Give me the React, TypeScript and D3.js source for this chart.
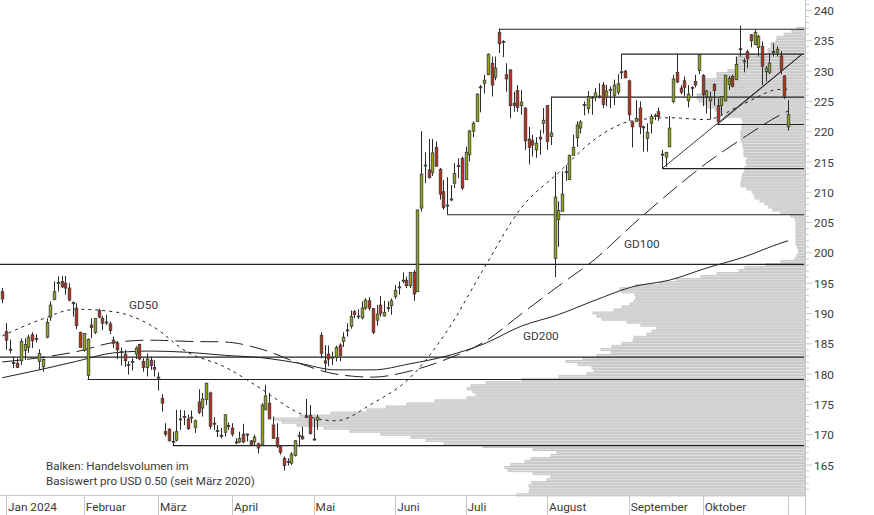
import * as d3 from "d3";

// bar index 0 = last trading day of 2023, 212 = last bar
const highs = [
  194.2, 188.4, 185.7, 182.9, 182.6, 185.9, 185.9, 186.5, 186.9, 186.6,
  184.1, 182.6, 189.2, 192, 195.3, 196.1, 196.2, 196.2, 195, 192,
  191.7, 187, 186.7, 185.9, 189.2, 189.2, 190.8, 189.6, 189.8, 188.7,
  186.2, 185.4, 184.4, 184, 182.1, 182.6, 184.6, 185, 182.6, 183.4,
  182.9, 182.3, 180.3, 176.7, 171.9, 171.1, 170.5, 174.1, 174.1, 174,
  173.3, 174, 172.5, 177.5, 176.9, 178.5, 177.1, 172.9, 171.6, 171.1,
  173.4, 172, 171.9, 169.4, 170.5, 171.8, 170.2, 169.1, 170, 168.7,
  175.2, 178.2, 176.9, 173, 171.9, 168.3, 166.4, 166.1, 167.1, 169.1,
  170.5, 171.3, 175.9, 174.9, 172.6, 173.3, 186.9, 184.8, 184.7, 183.7,
  184.7, 185.1, 186.9, 188.4, 190.5, 190.6, 190.7, 192, 192.5, 192.7,
  190.9, 191.4, 192.9, 192.1, 192, 192.5, 194.7, 195.3, 196.8, 196.1,
  196.8, 197.2, 207.1, 220.1, 216.6, 218.8, 218.8, 218.4, 214, 212,
  212.5, 211.2, 214.8, 215.6, 215.9, 217.5, 220.3, 221.7, 226.3, 227.7,
  229.4, 232.9, 232.4, 232.4, 237, 235.1, 231.3, 230.3, 226.6, 227.7,
  226.9, 224, 220.8, 219.5, 219.1, 220.3, 223.9, 224.4, 225.7, 213.4,
  208.5, 213.5, 214.5, 216.2, 219.5, 221.7, 221.9, 225, 226.7, 225.9,
  227.2, 228, 228.2, 227.7, 227.5, 228.6, 229.5, 232.8, 230.2, 228.6,
  221.7, 225.2, 225, 221, 221.4, 222.9, 223, 224, 217, 216.6,
  222.6, 229.4, 232.9, 227.7, 229.1, 227.7, 227.5, 229.4, 232.8, 229.5,
  226.9, 226.6, 228, 225.5, 225.8, 229.4, 229.2, 229.4, 232.4, 237.5,
  232.1, 233.5, 236.1, 236.8, 236, 234.9, 230.8, 232.9, 234.6, 234.1,
  233.3, 229.3, 225.2,
];
const lows = [
  191.7, 184, 183.4, 181, 181, 181.5, 182.3, 183.5, 184.3, 185.2,
  180.7, 180.4, 185.9, 188.8, 192.2, 193.6, 194.2, 193.1, 192, 189.5,
  187.4, 184.4, 183.7, 179.1, 185.9, 186.6, 189.2, 187.3, 188.1, 186.6,
  184.3, 182.5, 181.4, 181.2, 179.9, 180.6, 182.5, 182.3, 180.4, 179.6,
  180.7, 179.6, 177.3, 173.8, 169.7, 168.9, 168.3, 168.9, 170.8, 171.6,
  170.8, 171.9, 170.3, 173.4, 173, 174.9, 170.9, 170.8, 169.6, 169.4,
  169.7, 170.8, 169.7, 168.4, 168.6, 168.6, 168.9, 168.3, 168.3, 166.9,
  168.3, 174.1, 172.6, 169.4, 167.8, 166.7, 164.1, 164.9, 165, 166.4,
  168, 169.2, 172.8, 170, 169, 170.8, 182.6, 180.4, 181.3, 181.5,
  182.1, 182.1, 184.5, 186.2, 187.5, 189.2, 189.1, 189, 190.6, 190.5,
  186.6, 188, 189.5, 189.5, 190.3, 189.8, 192.4, 193.1, 195, 194.2,
  194.2, 192.1, 193.6, 206.8, 211.5, 212.3, 212.7, 214.3, 208.8, 207.1,
  206.4, 208.5, 210.7, 212.3, 210.4, 212, 215.1, 219.1, 221.7, 223.2,
  226.3, 229.4, 225.8, 228.5, 233, 232.3, 226.6, 222.2, 223.3, 223.3,
  222.8, 217, 214.6, 215.9, 215.7, 216.2, 219.7, 217, 217.8, 196,
  201, 206.8, 211.9, 212, 216.2, 217.5, 219.7, 222.7, 223, 222.8,
  225, 225.5, 223.9, 224.2, 223.9, 224.4, 226.1, 228.7, 228.8, 221.8,
  217.4, 221.7, 219.6, 216.7, 216.7, 219.7, 221.9, 221.8, 214, 214.2,
  217.5, 224.7, 228, 226.2, 225.8, 224, 225.8, 227.3, 229.5, 224.2,
  223, 222, 224.3, 221.1, 222.8, 225, 226.9, 227.3, 228.5, 232.4,
  229.8, 230.5, 233.9, 234.3, 232.4, 227.7, 228.3, 229.5, 232.4, 232.4,
  229.5, 225.4, 220.2,
];
const opens = [
  193.6, 187, 184.1, 181.9, 181.8, 182.2, 183.9, 184.4, 186.5, 185.9,
  182.1, 181.2, 186.1, 189.4, 192.3, 195.1, 195.3, 195, 194.2, 191.8,
  190.9, 186.9, 183.9, 179.8, 188.1, 186.9, 190.5, 189.2, 188.6, 188.3,
  185.6, 185.1, 183.7, 183.3, 181.6, 182.1, 183.3, 184.9, 182.1, 181.1,
  182.3, 181.1, 179.5, 176, 170.5, 170.9, 168.9, 169.1, 172.6, 173,
  172.6, 172.9, 171.2, 175.4, 174.4, 175.8, 176.9, 171.9, 170.7, 169.9,
  170.4, 171.5, 171.1, 168.8, 168.8, 170.1, 170.1, 169, 168.8, 168.5,
  168.3, 174.1, 175.2, 171.6, 169.5, 168.1, 166.1, 165.6, 165.3, 166.6,
  169.9, 169.7, 173, 173.2, 169.3, 172.4, 186.4, 182.2, 183.3, 182.8,
  182.8, 184.8, 185.4, 187.3, 187.9, 190.3, 189.6, 189.3, 190.9, 192.1,
  190.8, 188.9, 191.4, 189.6, 191, 191.3, 192.8, 194.4, 195.5, 195.5,
  194.6, 196.8, 193.6, 207.4, 214.5, 213.7, 213.3, 217.4, 213.8, 210.1,
  207.9, 208.9, 211.5, 214.4, 215.6, 212.1, 216.2, 220.1, 221.7, 227.4,
  228, 229.4, 231.3, 229, 236.4, 234.9, 229.4, 230.2, 224.7, 226.8,
  224.3, 223.9, 218.8, 218.5, 217, 219.1, 221.4, 224.3, 219.2, 199.1,
  205.5, 206.9, 213.4, 212.1, 216.1, 219, 220.6, 224.5, 223.8, 225.7,
  225.7, 225.9, 227.7, 225.7, 227, 226, 226.5, 229.9, 230, 228.4,
  221.6, 221.7, 223.9, 220.8, 218.9, 221.4, 222.7, 223.3, 216.3, 215.8,
  217.5, 225, 229.8, 227.2, 228.4, 225.1, 227.3, 228.3, 230.1, 229.3,
  225.8, 225.1, 227.8, 224.3, 224.3, 225.1, 227.8, 229.1, 228.6, 233.7,
  231.7, 233.2, 236, 234.4, 233.9, 234.1, 229.9, 229.8, 233.2, 233.1,
  232.5, 229.2, 220.8,
];
const closes = [
  192.4, 185.6, 184.1, 181.9, 181.1, 185.4, 184.9, 186.1, 185.5, 185.9,
  183.4, 182.4, 188.5, 191.4, 193.6, 195.1, 194.4, 194.2, 192.2, 191.8,
  188, 184.4, 186.7, 185.7, 187.7, 189.2, 189.4, 188.4, 188.6, 187.2,
  185.1, 184, 183.7, 182.2, 181.6, 182.1, 184.3, 182.5, 181.1, 182.5,
  181.4, 180.8, 179.5, 175.2, 170.1, 169, 168.9, 170.5, 172.6, 173,
  171, 172.9, 172.3, 173.7, 175.9, 178.5, 171.4, 171.9, 170.7, 169.9,
  173.3, 171.5, 170.1, 168.8, 169.4, 168.8, 170.1, 168.4, 169.6, 167.8,
  174.9, 176.4, 172.6, 169.4, 168.1, 167.1, 164.9, 165.6, 166.8, 169,
  169.9, 169.3, 173, 170.2, 169.3, 172.9, 183.4, 181.8, 182.5, 182.8,
  184.4, 183.1, 186.1, 187.3, 189.5, 189.8, 189.6, 190.9, 192.2, 190.9,
  186.9, 189.9, 190, 190.2, 191, 192.1, 193.8, 194.4, 195.5, 194.6,
  196.8, 193.2, 207.1, 213, 214.5, 212.4, 216.5, 214.3, 209.7, 207.5,
  207.9, 208.9, 213.1, 214.4, 210.7, 216.6, 220.1, 221.4, 226.2, 227.4,
  228.5, 232.8, 227.7, 230.5, 234.5, 234.9, 228.7, 224.3, 224.3, 224,
  224.9, 218.5, 217.4, 217.8, 218.1, 218.8, 221.9, 218.4, 219.8, 209.2,
  207, 209.7, 213.4, 216.1, 217.4, 221.1, 221.6, 224.5, 225.8, 225.7,
  226.4, 225.9, 224.5, 226.7, 227, 227.7, 227.9, 229.9, 228.9, 222.8,
  220.8, 222.2, 220.8, 220.8, 219.9, 222.5, 222.7, 222.5, 216.3, 216.6,
  220.6, 228.7, 228.2, 226.5, 227.3, 226.2, 227.3, 227.7, 232.7, 226.1,
  226.7, 225.7, 226.8, 221.7, 225.8, 229.3, 228.8, 227.5, 231.1, 233.7,
  231.7, 232.1, 235, 236.4, 235.7, 230.8, 230.5, 231.3, 233.2, 233.6,
  230.1, 225.8, 222.8,
];

// moving averages, read every ten bars
const maBars = [0, 10, 20, 30, 40, 50, 60, 70, 80, 90, 100, 110, 120, 130, 140, 150, 160, 170, 180, 190, 200, 210, 212];
const gd50 = [186.3, 188.9, 190.7, 190.3, 188.1, 183.6, 181.2, 177.5, 173.6, 172.3, 175.2, 179.4, 187.1, 197.5, 207.4, 213.2, 218.8, 221.8, 222.3, 222, 224.6, 227, 227];
const gd100 = [182, 182.7, 183.7, 185.2, 185.6, 185.4, 185.3, 184.1, 181.8, 180, 179.5, 180.5, 182.5, 185.3, 189.9, 194.5, 199, 204.6, 209.9, 214.8, 219, 222.8, 223.4];
const gd200 = [179.4, 180.7, 182.1, 183.5, 183.8, 183.6, 183.1, 182.7, 181.8, 180.7, 180.7, 181.7, 183, 185, 187.9, 189.8, 192.2, 194.4, 195.5, 197.5, 199.3, 201.6, 202];

// volume per USD 0.50, from 160 upwards
const volumeStart = 160;
const volumes = [
  288, 276, 275, 276, 273, 258, 254, 272, 297, 300, 294, 280, 274, 254, 248, 272,
  322, 361, 379, 394, 424, 455, 481, 508, 523, 531, 505, 474, 438, 419, 398, 370,
  338, 329, 332, 338, 334, 319, 283, 246, 218, 211, 213, 227, 239, 222, 208, 194,
  204, 193, 183, 172, 171, 158, 153, 148, 164, 178, 203, 208, 212, 191, 183, 175,
  171, 169, 170, 183, 185, 170, 145, 129, 104, 88, 66, 60, 39, 24, 10, 8,
  6, 7, 8, 9, 9, 9, 9, 9, 9, 9, 9, 10, 14, 24, 32, 36,
  40, 45, 50, 51, 53, 58, 64, 64, 63, 63, 62, 60, 60, 58, 59, 58,
  61, 61, 61, 62, 62, 64, 64, 64, 64, 63, 63, 62, 63, 80, 86, 90,
  97, 102, 106, 108, 108, 102, 101, 101, 101, 101, 88, 88, 77, 69, 69, 69,
  69, 67, 37, 37, 34, 34, 29, 28, 21, 13, 8,
];

// support and resistance: price and first bar
const levelPrices = [198.1, 182.8, 179.1, 168.2, 206.3, 225.7, 232.8, 236.9, 221.2, 213.9];
const levelStarts = [-2, -2, 23, 46, 120, 148, 167, 134, 193, 178];
// trend channel from bar/price to bar/price
const trendFrom = [[178, 213.9], [193, 221.2]];
const trendTo = [[215.8, 232.8], [215.8, 232.8]];

const monthBars = [1, 22, 42, 62, 84, 106, 125, 147, 169, 189, 212];
const monthLabels = ["Jan 2024", "Februar", "März", "April", "Mai", "Juni", "Juli", "August", "September", "Oktober", ""];
const priceLabels = [165, 170, 175, 180, 185, 190, 195, 200, 205, 210, 215, 220, 225, 230, 235, 240];

const WIDTH = 874;
const HEIGHT = 515;
const RIGHT_EDGE = 805;
const BOTTOM = 495.5;
const FONT = "Roboto, sans-serif";

export default function App() {
  const x = d3.scaleLinear().domain([1, 212]).range([6, 788]);
  const y = d3.scaleLinear().domain([240, 160]).range([10.5, 495.3]);
  const vol = d3.scaleLinear().domain([0, 531]).range([RIGHT_EDGE, RIGHT_EDGE - 531]);

  const maLine = d3
    .line<number>()
    .x((_, i) => x(maBars[i]))
    .y((d) => y(d))
    .curve(d3.curveMonotoneX);

  const rowHeight = Math.abs(y(0.5) - y(0));
  const minorTicks = d3.range(161, 242);

  return (
    <svg
      width={WIDTH}
      height={HEIGHT}
      style={{ position: "absolute", left: 0, top: 0, background: "#fff" }}
      fontFamily={FONT}
      fontSize={11.8}
    >
      {/* volume profile */}
      <g>
        {volumes.map((v, i) => {
          const price = volumeStart + i * 0.5;
          return (
            <rect
              key={price}
              x={vol(v)}
              y={y(price) - rowHeight / 2}
              width={RIGHT_EDGE - vol(v)}
              height={rowHeight - 0.9}
              fill="#dedede"
              stroke="#c4c4c4"
              strokeWidth={0.9}
            />
          );
        })}
      </g>

      {/* axes */}
      <line x1={0} x2={RIGHT_EDGE} y1={BOTTOM} y2={BOTTOM} stroke="#c8c8c8" />
      <line x1={RIGHT_EDGE + 0.5} x2={RIGHT_EDGE + 0.5} y1={0} y2={HEIGHT} stroke="#c8c8c8" />
      {minorTicks.map((p) => (
        <line
          key={p}
          x1={RIGHT_EDGE}
          x2={p % 5 === 0 ? RIGHT_EDGE + 7 : RIGHT_EDGE + 4}
          y1={y(p)}
          y2={y(p)}
          stroke="#c8c8c8"
        />
      ))}
      {priceLabels.map((p) => (
        <text key={p} x={814} y={y(p) + 4.5} fill="#3a3a3a">
          {p}
        </text>
      ))}
      {monthBars.map((b, i) => (
        <g key={b}>
          <line x1={Math.round(x(b)) + 0.5} x2={Math.round(x(b)) + 0.5} y1={BOTTOM} y2={HEIGHT} stroke="#c8c8c8" />
          <text x={x(b) + 2} y={511} fill="#3a3a3a">
            {monthLabels[i]}
          </text>
        </g>
      ))}

      {/* levels */}
      {levelPrices.map((p, i) => (
        <line
          key={p}
          x1={x(levelStarts[i])}
          x2={RIGHT_EDGE - 1}
          y1={y(p)}
          y2={y(p)}
          stroke="#222"
          strokeWidth={1.1}
        />
      ))}
      {trendFrom.map((from, i) => (
        <line
          key={i}
          x1={x(from[0])}
          y1={y(from[1])}
          x2={x(trendTo[i][0])}
          y2={y(trendTo[i][1])}
          stroke="#222"
          strokeWidth={0.9}
        />
      ))}

      {/* moving averages */}
      <path d={maLine(gd200) ?? ""} fill="none" stroke="#222" strokeWidth={1} />
      <path d={maLine(gd100) ?? ""} fill="none" stroke="#222" strokeWidth={1} strokeDasharray="18 7" />
      <path d={maLine(gd50) ?? ""} fill="none" stroke="#222" strokeWidth={1} strokeDasharray="3 4" />

      {/* candles */}
      {highs.map((h, i) => {
        const top = Math.max(opens[i], closes[i]);
        const bottom = Math.min(opens[i], closes[i]);
        const cx = Math.round(x(i)) + 0.5;
        const bodyH = Math.max(y(bottom) - y(top), 1);
        return (
          <g key={i}>
            <line x1={cx} x2={cx} y1={y(h)} y2={y(lows[i])} stroke="#2b2b2b" strokeWidth={1} />
            <rect
              x={cx - 1.3}
              y={y(top)}
              width={2.6}
              height={bodyH}
              fill={closes[i] > opens[i] ? "#93a61a" : "#b8301a"}
              stroke="#3a3a3a"
              strokeWidth={0.8}
            />
          </g>
        );
      })}

      <text x={129} y={309} fill="#3a3a3a">GD50</text>
      <text x={624} y={248} fill="#3a3a3a">GD100</text>
      <text x={523} y={340} fill="#3a3a3a">GD200</text>
      <text x={46} y={470} fill="#3a3a3a" fontSize={11.6}>Balken: Handelsvolumen im</text>
      <text x={46} y={485} fill="#3a3a3a" fontSize={11.6}>Basiswert pro USD 0.50 (seit März 2020)</text>
    </svg>
  );
}
